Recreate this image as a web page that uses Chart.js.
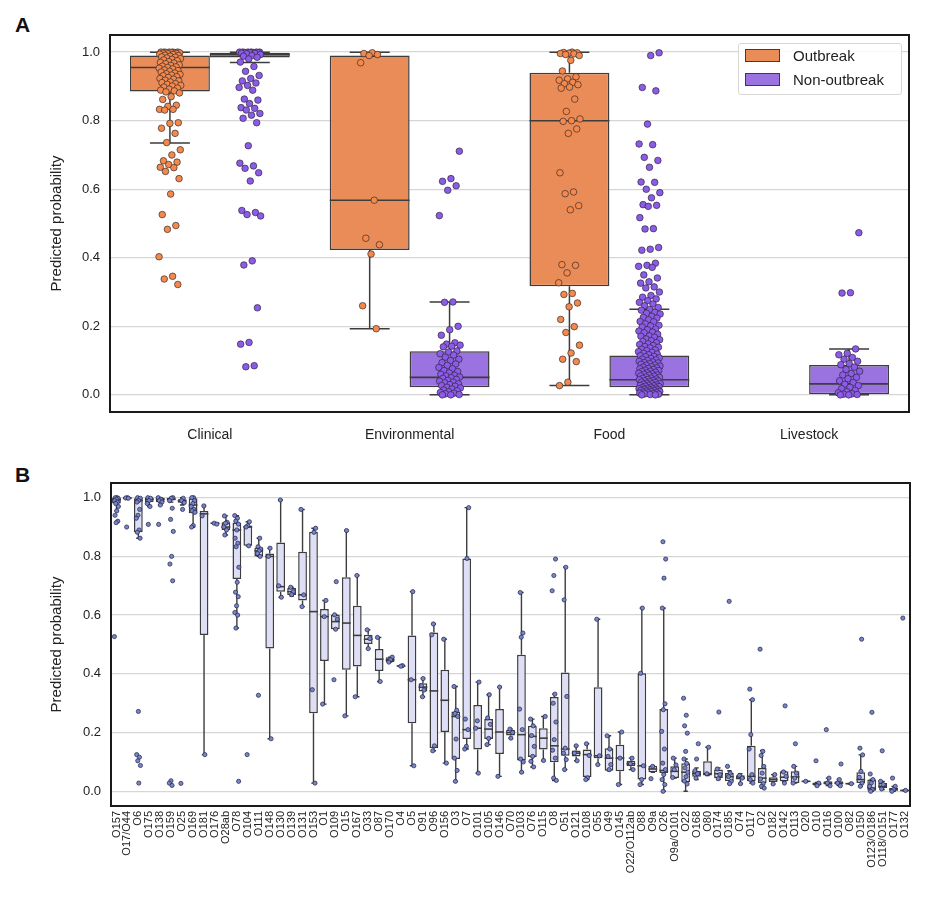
<!DOCTYPE html>
<html><head><meta charset="utf-8">
<script src="https://cdn.jsdelivr.net/npm/chart.js@4.4.1/dist/chart.umd.min.js"></script>
<style>
body{margin:0;background:#fff;width:935px;height:921px;position:relative;overflow:hidden;font-family:"Liberation Sans",Arial,sans-serif;}
canvas{position:absolute;left:0;}
.pa{top:0;}
.pb{top:465px;}
.pl{position:absolute;font-weight:bold;font-size:21px;color:#111;}
#legend{position:absolute;left:738px;top:43px;width:164px;height:52px;border:1px solid #d8d8d8;border-radius:3px;background:rgba(255,255,255,0.85);box-sizing:border-box;z-index:5;}
.li{position:absolute;left:6px;height:18px;line-height:18px;font-size:15px;color:#222;white-space:nowrap;}
.sw{display:inline-block;width:35px;height:13px;border:1.5px solid #3d3d3d;box-sizing:border-box;vertical-align:-1px;margin-right:13px;}
</style></head>
<body>
<div class="pl" style="left:15px;top:13px;">A</div>
<div class="pl" style="left:15px;top:463px;">B</div>
<canvas id="ca" class="pa" width="935" height="462"></canvas>
<canvas id="ca2" class="pa" width="935" height="462"></canvas>
<canvas id="cb" class="pb" width="935" height="456"></canvas>
<canvas id="cb2" class="pb" width="935" height="456"></canvas>
<div id="legend">
  <div class="li" style="top:3px;"><span class="sw" style="background:#ea8c58"></span>Outbreak</div>
  <div class="li" style="top:27px;"><span class="sw" style="background:#9a73e0"></span>Non-outbreak</div>
</div>
<script>
// ---------- Panel A data ----------
const aCategories = ['Clinical','Environmental','Food','Livestock'];
const aSeries = ['Outbreak','Non-outbreak'];
const yTicks = [0.0,0.2,0.4,0.6,0.8,1.0];

const aOutQ1  = [0.885, 0.423, 0.317, null];
const aOutMed = [0.955, 0.568, 0.800, null];
const aOutQ3  = [0.990, 0.990, 0.940, null];
const aOutLo  = [0.735, 0.193, 0.027, null];
const aOutHi  = [1.000, 1.000, 1.000, null];

const aNonQ1  = [0.984, 0.022, 0.022, 0.000];
const aNonMed = [0.993, 0.051, 0.044, 0.032];
const aNonQ3  = [0.998, 0.127, 0.115, 0.087];
const aNonLo  = [0.970, 0.000, 0.000, 0.000];
const aNonHi  = [1.000, 0.271, 0.250, 0.134];

const clinicalOutPts = [1.0,1.0,1.0,1.0,1.0,0.999,0.999,0.998,0.998,0.997,0.996,0.995,0.994,0.993,0.991,0.99,0.988,0.986,0.985,0.983,0.981,0.979,0.977,0.975,0.972,0.97,0.968,0.966,0.963,0.961,0.959,0.957,0.955,0.953,0.951,0.948,0.946,0.944,0.942,0.939,0.937,0.935,0.933,0.931,0.928,0.926,0.923,0.921,0.918,0.916,0.913,0.911,0.908,0.906,0.903,0.901,0.898,0.895,0.892,0.889,0.887,0.884,0.881,0.87,0.862,0.845,0.842,0.833,0.833,0.831,0.794,0.792,0.778,0.763,0.736,0.715,0.70,0.683,0.679,0.672,0.664,0.663,0.652,0.631,0.586,0.526,0.494,0.483,0.403,0.346,0.338,0.322];
const clinicalNonPts = [1.0,1.0,1.0,1.0,1.0,1.0,0.999,0.999,0.998,0.998,0.997,0.996,0.995,0.993,0.99,0.988,0.985,0.98,0.971,0.958,0.944,0.932,0.923,0.916,0.91,0.903,0.897,0.889,0.863,0.86,0.85,0.838,0.836,0.831,0.821,0.816,0.807,0.794,0.727,0.676,0.668,0.661,0.648,0.624,0.538,0.532,0.526,0.522,0.391,0.379,0.254,0.153,0.148,0.085,0.082];
const envOutPts = [0.998,0.996,0.993,0.99,0.969,0.568,0.457,0.438,0.411,0.26,0.193];
const envNonPts = [0.711,0.631,0.623,0.61,0.597,0.523,0.271,0.27,0.2,0.19,0.174,0.152,0.148,0.145,0.142,0.14,0.128,0.125,0.12,0.116,0.11,0.104,0.1,0.094,0.09,0.086,0.08,0.076,0.071,0.068,0.064,0.06,0.057,0.055,0.052,0.05,0.048,0.045,0.042,0.04,0.037,0.035,0.032,0.03,0.027,0.025,0.022,0.02,0.017,0.014,0.012,0.009,0.007,0.005,0.003,0.001,0.0,0.0];
const foodOutPts = [1.0,0.999,0.998,0.997,0.996,0.995,0.993,0.99,0.976,0.945,0.928,0.922,0.918,0.912,0.908,0.905,0.898,0.895,0.863,0.827,0.805,0.80,0.798,0.776,0.763,0.648,0.592,0.587,0.552,0.54,0.38,0.378,0.356,0.327,0.296,0.293,0.268,0.257,0.22,0.199,0.182,0.145,0.122,0.104,0.097,0.037,0.027];
const foodNonPts = [0.998,0.99,0.897,0.887,0.79,0.732,0.73,0.693,0.684,0.664,0.621,0.62,0.60,0.59,0.575,0.555,0.553,0.55,0.517,0.485,0.484,0.43,0.425,0.422,0.384,0.378,0.375,0.372,0.35,0.341,0.33,0.326,0.315,0.312,0.3,0.29,0.285,0.28,0.275,0.27,0.265,0.26,0.255,
 0.249,0.247,0.241,0.238,0.236,0.229,0.226,0.224,0.219,0.214,0.213,0.207,0.203,0.201,0.198,0.192,0.19,0.186,0.183,0.181,0.177,0.172,0.171,0.168,0.163,0.161,0.158,0.156,0.152,0.149,0.147,0.144,0.141,0.139,0.137,0.133,0.131,0.129,0.126,0.124,0.121,0.119,0.117,0.114,0.112,0.111,0.108,0.106,0.104,0.102,0.1,0.098,0.096,0.094,0.093,0.091,0.089,0.087,0.086,0.084,0.082,0.081,0.079,0.077,0.076,0.074,0.072,0.071,0.069,0.068,0.066,0.064,0.063,0.061,0.06,0.058,0.057,0.055,0.054,0.052,0.051,0.049,0.048,0.046,0.045,0.044,0.042,0.041,0.04,0.038,0.037,0.036,0.034,0.033,0.032,0.031,0.029,0.028,0.027,0.026,0.025,0.024,0.022,0.021,0.02,0.019,0.018,0.017,0.016,0.015,0.014,0.013,0.012,0.011,0.01,0.009,0.008,0.007,0.006,0.005,0.004,0.003,0.002,0.001,0.0,0.0];
const livestockNonPts = [0.473,0.298,0.297,0.134,0.121,0.117,0.109,0.104,0.098,0.091,0.088,0.081,0.074,0.069,0.062,0.058,0.051,0.047,0.041,0.036,0.031,0.027,0.022,0.018,0.013,0.009,0.006,0.003,0.002,0.001,0.0,0.0];
const aOutPts = [clinicalOutPts, envOutPts, foodOutPts, []];
const aNonPts = [clinicalNonPts, envNonPts, foodNonPts, livestockNonPts];

// ---------- Panel B data ----------
const bLabels = ['O157','O17/O44','O6','O175','O138','O159','O25','O169','O181','O176','O28ab','O78','O104','O111','O148','O130','O139','O131','O153','O1','O109','O15','O167','O33','O87','O170','O4','O5','O91','O96','O156','O3','O7','O101','O105','O146','O70','O103','O76','O115','O8','O51','O121','O108','O55','O49','O145','O22/O112ab','O88','O9a','O26','O9a/O101','O22','O168','O80','O174','O185','O74','O117','O2','O182','O142','O113','O20','O10','O116','O100','O82','O150','O123/O186','O118/O151','O177','O132'];
const bQ1  = [0.98,0.997,0.882,0.985,0.985,0.99,0.983,0.947,0.532,0.91,0.89,0.723,0.836,0.80,0.486,0.68,0.669,0.65,0.266,0.444,0.552,0.414,0.425,0.502,0.41,0.44,0.425,0.232,0.34,0.147,0.202,0.11,0.178,0.142,0.178,0.127,0.19,0.105,0.117,0.142,0.099,0.121,0.119,0.049,0.113,0.07,0.068,0.085,0.04,0.065,0.062,0.045,0.031,0.05,0.054,0.045,0.034,0.04,0.034,0.028,0.032,0.034,0.028,0.032,0.02,0.023,0.023,0.025,0.028,0.002,0.011,0.0,0.002];
const bMed = [0.993,0.999,0.99,0.995,0.995,0.995,0.99,0.975,0.945,0.913,0.90,0.89,0.90,0.819,0.80,0.697,0.68,0.669,0.612,0.595,0.578,0.573,0.531,0.518,0.45,0.448,0.427,0.38,0.355,0.342,0.31,0.255,0.21,0.215,0.212,0.202,0.20,0.193,0.187,0.181,0.155,0.144,0.13,0.125,0.121,0.113,0.113,0.094,0.087,0.076,0.071,0.068,0.065,0.06,0.06,0.06,0.05,0.045,0.051,0.045,0.04,0.048,0.049,0.034,0.025,0.028,0.028,0.026,0.04,0.011,0.017,0.006,0.003];
const bQ3  = [1.0,1.0,0.998,1.0,1.0,1.0,0.995,0.998,0.955,0.915,0.916,0.915,0.905,0.83,0.81,0.847,0.692,0.816,0.884,0.621,0.601,0.729,0.632,0.533,0.485,0.457,0.428,0.531,0.368,0.541,0.414,0.272,0.793,0.294,0.246,0.28,0.21,0.465,0.223,0.215,0.321,0.405,0.139,0.142,0.354,0.147,0.159,0.104,0.402,0.087,0.28,0.085,0.096,0.07,0.102,0.074,0.062,0.055,0.155,0.079,0.048,0.068,0.068,0.036,0.03,0.034,0.034,0.027,0.065,0.04,0.028,0.011,0.004];
const bLo  = [0.955,0.996,0.862,0.97,0.975,0.985,0.975,0.90,0.125,0.91,0.873,0.556,0.836,0.80,0.179,0.661,0.665,0.629,0.028,0.297,0.552,0.257,0.322,0.486,0.374,0.44,0.425,0.087,0.322,0.138,0.096,0.034,0.144,0.062,0.159,0.051,0.181,0.065,0.083,0.105,0.037,0.074,0.104,0.04,0.091,0.07,0.023,0.074,0.023,0.065,0.0,0.045,0.0,0.04,0.054,0.04,0.026,0.026,0.028,0.011,0.025,0.034,0.028,0.032,0.019,0.02,0.02,0.025,0.017,0.0,0.006,0.0,0.002];
const bHi  = [1.0,1.0,1.0,1.0,1.0,1.0,1.0,1.0,0.972,0.915,0.938,0.939,0.918,0.862,0.828,0.992,0.695,0.96,0.896,0.65,0.601,0.888,0.735,0.55,0.524,0.457,0.428,0.68,0.384,0.57,0.518,0.357,0.966,0.372,0.329,0.355,0.212,0.677,0.246,0.255,0.331,0.763,0.155,0.162,0.586,0.189,0.202,0.113,0.624,0.087,0.624,0.113,0.11,0.08,0.15,0.08,0.07,0.06,0.312,0.139,0.057,0.068,0.085,0.036,0.03,0.045,0.04,0.027,0.124,0.04,0.034,0.017,0.004];
const bPts = [
 [1.0,1.0,0.998,0.995,0.99,0.985,0.98,0.97,0.955,0.94,0.92,0.915,0.527],
 [1.0,0.999,0.998,0.9],
 [1.0,0.998,0.99,0.985,0.96,0.94,0.93,0.89,0.882,0.862,0.272,0.125,0.116,0.104,0.088,0.028],
 [1.0,0.998,0.99,0.98,0.97,0.909],
 [1.0,0.995,0.99,0.985,0.975,0.909],
 [1.0,0.998,0.99,0.964,0.926,0.885,0.80,0.774,0.717,0.036,0.028,0.02],
 [0.998,0.99,0.983,0.96,0.027],
 [1.0,1.0,0.99,0.98,0.97,0.96,0.955,0.95,0.905,0.9],
 [0.972,0.938,0.125],
 [0.913,0.91],
 [0.938,0.916,0.913,0.90,0.89,0.873],
 [0.939,0.93,0.92,0.91,0.89,0.862,0.845,0.833,0.763,0.712,0.678,0.663,0.632,0.609,0.60,0.556,0.034],
 [0.918,0.905,0.90,0.836,0.125],
 [0.862,0.833,0.825,0.819,0.81,0.80,0.327],
 [0.828,0.80,0.179],
 [0.992,0.70,0.661],
 [0.695,0.68,0.67],
 [0.96,0.669,0.629],
 [0.896,0.882,0.346,0.028],
 [0.65,0.595,0.297],
 [0.714,0.601,0.586,0.552,0.38],
 [0.888,0.257],
 [0.735,0.322],
 [0.55,0.52,0.486],
 [0.524,0.374],
 [0.457,0.448,0.44],
 [0.428,0.426],
 [0.68,0.38,0.087],
 [0.384,0.36,0.345,0.322],
 [0.57,0.533,0.155,0.138],
 [0.518,0.096],
 [0.357,0.276,0.265,0.255,0.178,0.113,0.071,0.034],
 [0.966,0.793,0.246,0.21,0.153,0.144],
 [0.372,0.24,0.215,0.062],
 [0.329,0.25,0.228,0.18,0.159],
 [0.355,0.051],
 [0.212,0.2,0.181],
 [0.677,0.539,0.525,0.28,0.21,0.11,0.1,0.065],
 [0.246,0.223,0.19,0.153,0.119,0.102,0.083],
 [0.255,0.105],
 [0.791,0.735,0.683,0.331,0.30,0.236,0.176,0.14,0.113,0.045,0.037],
 [0.763,0.652,0.323,0.147,0.13,0.108,0.074],
 [0.155,0.13,0.104],
 [0.162,0.122,0.046,0.04],
 [0.586,0.121,0.091],
 [0.189,0.144,0.119,0.091,0.074],
 [0.202,0.113,0.023],
 [0.113,0.094,0.074],
 [0.624,0.402,0.087,0.04,0.023],
 [0.085,0.043],
 [0.85,0.791,0.726,0.624,0.298,0.278,0.204,0.144,0.096,0.074,0.057,0.04,0.023,0.0],
 [0.113,0.09,0.074,0.047],
 [0.317,0.259,0.223,0.198,0.136,0.11,0.095,0.08,0.065,0.05,0.035,0.025],
 [0.162,0.11,0.07,0.06,0.045],
 [0.15,0.06],
 [0.27,0.076,0.057,0.043],
 [0.647,0.085,0.062,0.05,0.034,0.026],
 [0.054,0.045,0.026],
 [0.348,0.312,0.193,0.144,0.057,0.04,0.028],
 [0.484,0.136,0.122,0.085,0.062,0.042,0.026,0.017,0.011],
 [0.057,0.025],
 [0.291,0.066,0.051,0.028],
 [0.162,0.085,0.062,0.045,0.028],
 [0.034],
 [0.104,0.028,0.019],
 [0.21,0.045,0.028,0.019],
 [0.093,0.04,0.028,0.019],
 [0.026],
 [0.518,0.147,0.124,0.068,0.048,0.028,0.017],
 [0.269,0.059,0.04,0.028,0.017,0.006,0.0],
 [0.138,0.034,0.023,0.008],
 [0.045,0.017,0.006,0.0],
 [0.59,0.003]
];

// ---------- styling ----------
const FONT = '"Liberation Sans", Arial, sans-serif';
Chart.defaults.font.family = FONT;
Chart.defaults.color = '#222';
const EDGE = '#3d3d3d';

function jit(k, amp){ return ((((k+1)*0.6180339887) % 1) - 0.5) * 2 * amp; }

const boxPlugin = {
  id: 'boxWhiskers',
  afterDatasetDraw(chart, args) {
    const ds = chart.data.datasets[args.index];
    if (!ds.stats) return;
    const s = ds.stats, y = chart.scales.y, ctx = chart.ctx;
    ctx.save();
    ctx.strokeStyle = EDGE; ctx.lineCap = 'butt';
    args.meta.data.forEach((el, j) => {
      if (s.q1[j] == null) return;
      const p = el.getProps(['x','width'], true);
      const x = p.x, w = p.width;
      const pq1 = y.getPixelForValue(s.q1[j]), pq3 = y.getPixelForValue(s.q3[j]);
      const plo = y.getPixelForValue(s.lo[j]), phi = y.getPixelForValue(s.hi[j]);
      const pm = y.getPixelForValue(s.med[j]);
      ctx.lineWidth = ds.lineW;
      ctx.beginPath();
      ctx.moveTo(x, pq1); ctx.lineTo(x, plo);
      ctx.moveTo(x, pq3); ctx.lineTo(x, phi);
      ctx.moveTo(x - w/4, plo); ctx.lineTo(x + w/4, plo);
      ctx.moveTo(x - w/4, phi); ctx.lineTo(x + w/4, phi);
      ctx.stroke();
      ctx.lineWidth = ds.medW;
      ctx.beginPath();
      ctx.moveTo(x - w/2, pm); ctx.lineTo(x + w/2, pm);
      ctx.stroke();
    });
    ctx.restore();
  }
};
const framePlugin = {
  id: 'frame',
  afterDatasetsDraw(chart) {
    const a = chart.chartArea, ctx = chart.ctx;
    ctx.save();
    ctx.strokeStyle = '#1a1a1a'; ctx.lineWidth = 2;
    ctx.strokeRect(a.left, a.top, a.right - a.left, a.bottom - a.top);
    ctx.restore();
  }
};

function yScale(width, tickSize) {
  return {
    type: 'linear', min: -0.05, max: 1.05,
    afterBuildTicks: sc => { sc.ticks = yTicks.map(v => ({value: v})); },
    afterFit: sc => { sc.width = width; },
    ticks: { padding: 10, font: {size: tickSize}, color: '#222', callback: v => Number(v).toFixed(1) },
    grid: { color: '#d6d6d6', lineWidth: 1.3, drawTicks: false },
    border: { display: false },
    title: { display: true, text: 'Predicted probability', font: {size: 15}, color: '#222', padding: {top: 48, bottom: 0} }
  };
}
function catScale(labels, height, padding, fontSize, rot) {
  return { type: 'category', labels: labels, offset: true,
    grid: {display: false, drawTicks: false, offset: true}, border: {display: false},
    afterFit: sc => { sc.height = height; },
    ticks: { padding: padding, font: {size: fontSize}, color: '#222', autoSkip: false, maxRotation: rot, minRotation: rot } };
}
const baseOpts = (pad, scales) => ({
  responsive: false, maintainAspectRatio: false, animation: false, devicePixelRatio: 1,
  layout: { padding: pad },
  plugins: { legend: {display: false}, tooltip: {enabled: false} },
  events: [],
  scales: scales
});
// overlay chart for strip points: same chart area, hidden axes on the same value ranges
function stripChart(canvasId, n, pad, datasets) {
  return new Chart(document.getElementById(canvasId), {
    type: 'scatter',
    data: { datasets: datasets },
    options: baseOpts(pad, {
      x: { type: 'linear', display: false, min: -0.5, max: n - 0.5 },
      y: { type: 'linear', display: false, min: -0.05, max: 1.05 }
    }),
    plugins: [framePlugin]
  });
}

// ---------- Panel A ----------
new Chart(document.getElementById('ca'), {
  type: 'bar',
  data: {
    labels: aCategories,
    datasets: [
      { label: aSeries[0], data: aOutQ1.map((q, i) => q == null ? null : [q, aOutQ3[i]]),
        backgroundColor: '#ea8c58', borderColor: EDGE, borderWidth: 1.5, borderSkipped: false,
        categoryPercentage: 0.8, barPercentage: 1.0,
        stats: {q1: aOutQ1, med: aOutMed, q3: aOutQ3, lo: aOutLo, hi: aOutHi}, lineW: 1.5, medW: 1.6 },
      { label: aSeries[1], data: aNonQ1.map((q, i) => q == null ? null : [q, aNonQ3[i]]),
        backgroundColor: '#9a73e0', borderColor: EDGE, borderWidth: 1.5, borderSkipped: false,
        categoryPercentage: 0.8, barPercentage: 1.0,
        stats: {q1: aNonQ1, med: aNonMed, q3: aNonQ3, lo: aNonLo, hi: aNonHi}, lineW: 1.5, medW: 1.6 }
    ]
  },
  options: baseOpts({top: 35, right: 26, left: 0, bottom: 0}, {
    x: catScale(aCategories, 50, 15, 14, 0),
    y: yScale(110, 13)
  }),
  plugins: [boxPlugin]
});

const ptsOut = [], ptsNon = [];
aOutPts.forEach((arr, c) => arr.forEach((v, k) => ptsOut.push({x: c - 0.2 + jit(k, 0.055), y: v})));
aNonPts.forEach((arr, c) => arr.forEach((v, k) => ptsNon.push({x: c + 0.2 + jit(k + 7, 0.055), y: v})));
stripChart('ca2', aCategories.length, {top: 35, right: 26, left: 110, bottom: 50}, [
  { label: aSeries[0], data: ptsOut, pointRadius: 3.3, pointBackgroundColor: '#f3894d', pointBorderColor: 'rgba(50,40,40,0.85)', pointBorderWidth: 0.8 },
  { label: aSeries[1], data: ptsNon, pointRadius: 3.3, pointBackgroundColor: '#8c5ce8', pointBorderColor: 'rgba(45,35,60,0.85)', pointBorderWidth: 0.8 }
]);

// ---------- Panel B ----------
new Chart(document.getElementById('cb'), {
  type: 'bar',
  data: {
    labels: bLabels,
    datasets: [
      { label: 'Serogroup', data: bQ1.map((q, i) => [q, bQ3[i]]),
        backgroundColor: '#dedef6', borderColor: EDGE, borderWidth: 1.5, borderSkipped: false,
        categoryPercentage: 0.8, barPercentage: 1.0,
        stats: {q1: bQ1, med: bMed, q3: bQ3, lo: bLo, hi: bHi}, lineW: 1.4, medW: 1.6 }
    ]
  },
  options: baseOpts({top: 18, right: 25, left: 0, bottom: 0}, {
    x: catScale(bLabels, 115, 5, 11, 90),
    y: yScale(111, 13)
  }),
  plugins: [boxPlugin]
});

const ptsB = [];
bPts.forEach((arr, c) => arr.forEach((v, k) => ptsB.push({x: c + jit(k + c * 3, 0.2), y: v})));
stripChart('cb2', bLabels.length, {top: 18, right: 25, left: 111, bottom: 115}, [
  { label: 'points', data: ptsB, pointRadius: 2.1, pointBackgroundColor: '#7786cb', pointBorderColor: 'rgba(35,35,70,0.9)', pointBorderWidth: 0.8 }
]);
</script>
</body></html>
